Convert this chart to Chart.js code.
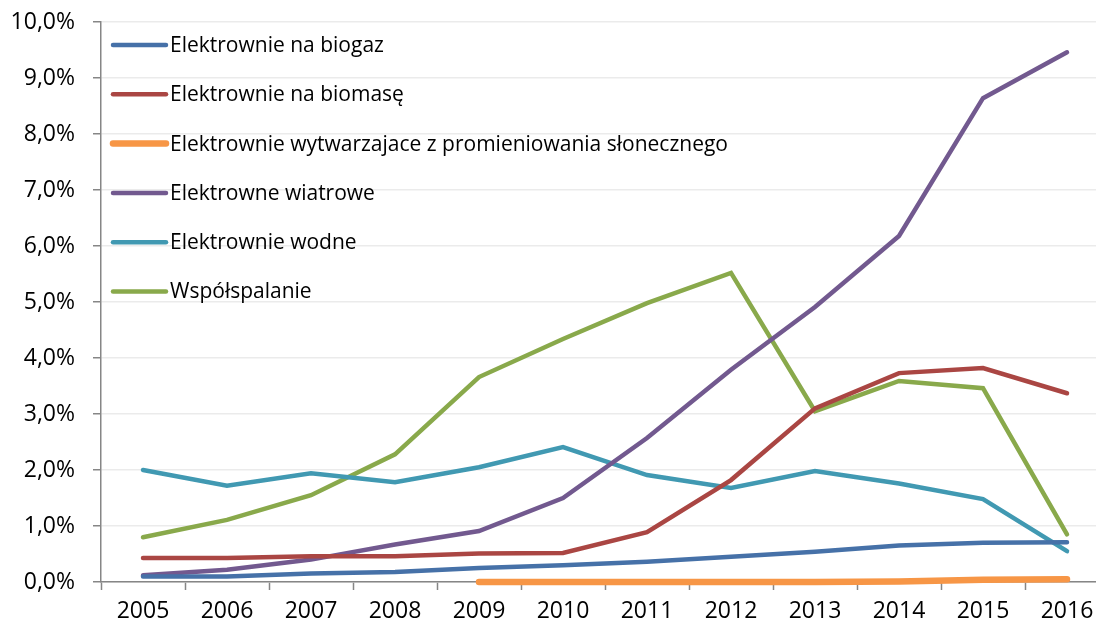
<!DOCTYPE html>
<html>
<head>
<meta charset="utf-8">
<script src="https://cdn.jsdelivr.net/npm/chart.js@4.4.1/dist/chart.umd.min.js"></script>
<style>
    html, body { margin: 0; padding: 0; background: #fff; overflow: hidden; }
    #wrap { width: 1096px; height: 627px; overflow: hidden; }
    #chart { display: block; }
</style>
</head>
<body>
<div id="wrap">
    <canvas id="chart" width="1112" height="627"></canvas>
</div>
<script>
    // dane (udzial w %)
    var years = ['2005', '2006', '2007', '2008', '2009', '2010', '2011', '2012', '2013', '2014', '2015', '2016'];

    var biogaz = [0.10, 0.10, 0.15, 0.18, 0.25, 0.30, 0.36, 0.45, 0.54, 0.65, 0.70, 0.71];
    var biomasa = [0.43, 0.43, 0.46, 0.46, 0.51, 0.52, 0.89, 1.82, 3.10, 3.73, 3.82, 3.37];
    var sloneczne = [null, null, null, null, 0.00, 0.00, 0.00, 0.00, 0.00, 0.01, 0.04, 0.05];
    var wiatrowe = [0.12, 0.22, 0.40, 0.67, 0.91, 1.50, 2.57, 3.79, 4.91, 6.18, 8.64, 9.46];
    var wodne = [2.00, 1.72, 1.94, 1.78, 2.05, 2.41, 1.91, 1.68, 1.98, 1.76, 1.48, 0.55];
    var wspolspalanie = [0.80, 1.11, 1.55, 2.28, 3.66, 4.34, 4.98, 5.52, 3.05, 3.59, 3.46, 0.85];

    var FONT = '"Open Sans", "Noto Sans", sans-serif';
    var AXIS = '#868686';

    function line(label, data, color, width) {
        return {
            label: label,
            data: data,
            borderColor: color,
            backgroundColor: color,
            borderWidth: width || 4.5,
            borderCapStyle: 'round',
            borderJoinStyle: 'miter',
            pointRadius: 0,
            pointHoverRadius: 0,
            tension: 0,
            fill: false,
            clip: false
        };
    }

    // legenda w obszarze wykresu, pionowo
    var insideLegend = {
        id: 'insideLegend',
        afterDraw: function (chart) {
            var ctx = chart.ctx;
            ctx.save();
            ctx.font = '21px ' + FONT;
            ctx.textBaseline = 'middle';
            ctx.textAlign = 'left';
            chart.data.datasets.forEach(function (ds, i) {
                var y = 45 + i * 49.3;
                ctx.strokeStyle = ds.borderColor;
                ctx.lineWidth = ds.borderWidth;
                ctx.lineCap = 'round';
                ctx.beginPath();
                ctx.moveTo(113, y);
                ctx.lineTo(166, y);
                ctx.stroke();
                ctx.fillStyle = '#000';
                ctx.fillText(ds.label, 170, y + 1);
            });
            ctx.restore();
        }
    };

    new Chart(document.getElementById('chart'), {
        type: 'line',
        data: {
            labels: years,
            datasets: [
                line('Elektrownie na biogaz', biogaz, '#4671A8'),
                line('Elektrownie na biomasę', biomasa, '#AA4643'),
                line('Elektrownie wytwarzajace z promieniowania słonecznego', sloneczne, '#F79646', 6.5),
                line('Elektrowne wiatrowe', wiatrowe, '#72598F'),
                line('Elektrownie wodne', wodne, '#4199B2'),
                line('Współspalanie', wspolspalanie, '#89A94B')
            ]
        },
        options: {
            responsive: false,
            animation: false,
            layout: { padding: { top: 22, right: 3, left: 0, bottom: 0 } },
            plugins: {
                legend: { display: false },
                tooltip: { enabled: false }
            },
            scales: {
                x: {
                    offset: true,
                    grid: {
                        offset: true,
                        drawOnChartArea: false,
                        drawTicks: true,
                        tickLength: 8,
                        tickColor: AXIS,
                        tickWidth: 1.5
                    },
                    border: { color: AXIS, width: 1.5 },
                    ticks: {
                        color: '#000',
                        font: { family: FONT, size: 23 },
                        padding: 8,
                        maxRotation: 0
                    },
                    afterFit: function (scale) {
                        scale.height = 45;
                        scale.paddingLeft = 0;
                        scale.paddingRight = 0;
                    }
                },
                y: {
                    min: 0,
                    max: 10,
                    grid: {
                        color: '#EBEBEB',
                        lineWidth: 1.5,
                        drawTicks: true,
                        tickLength: 8,
                        tickColor: AXIS,
                        tickWidth: 1.5
                    },
                    border: { color: AXIS, width: 1.5 },
                    ticks: {
                        stepSize: 1,
                        color: '#000',
                        font: { family: FONT, size: 23 },
                        padding: 18,
                        callback: function (v) { return v.toFixed(1).replace('.', ',') + '%'; }
                    },
                    afterFit: function (scale) {
                        scale.width = 101;
                        scale.paddingTop = 0;
                        scale.paddingBottom = 0;
                    }
                }
            }
        },
        plugins: [insideLegend]
    });
</script>
</body>
</html>
